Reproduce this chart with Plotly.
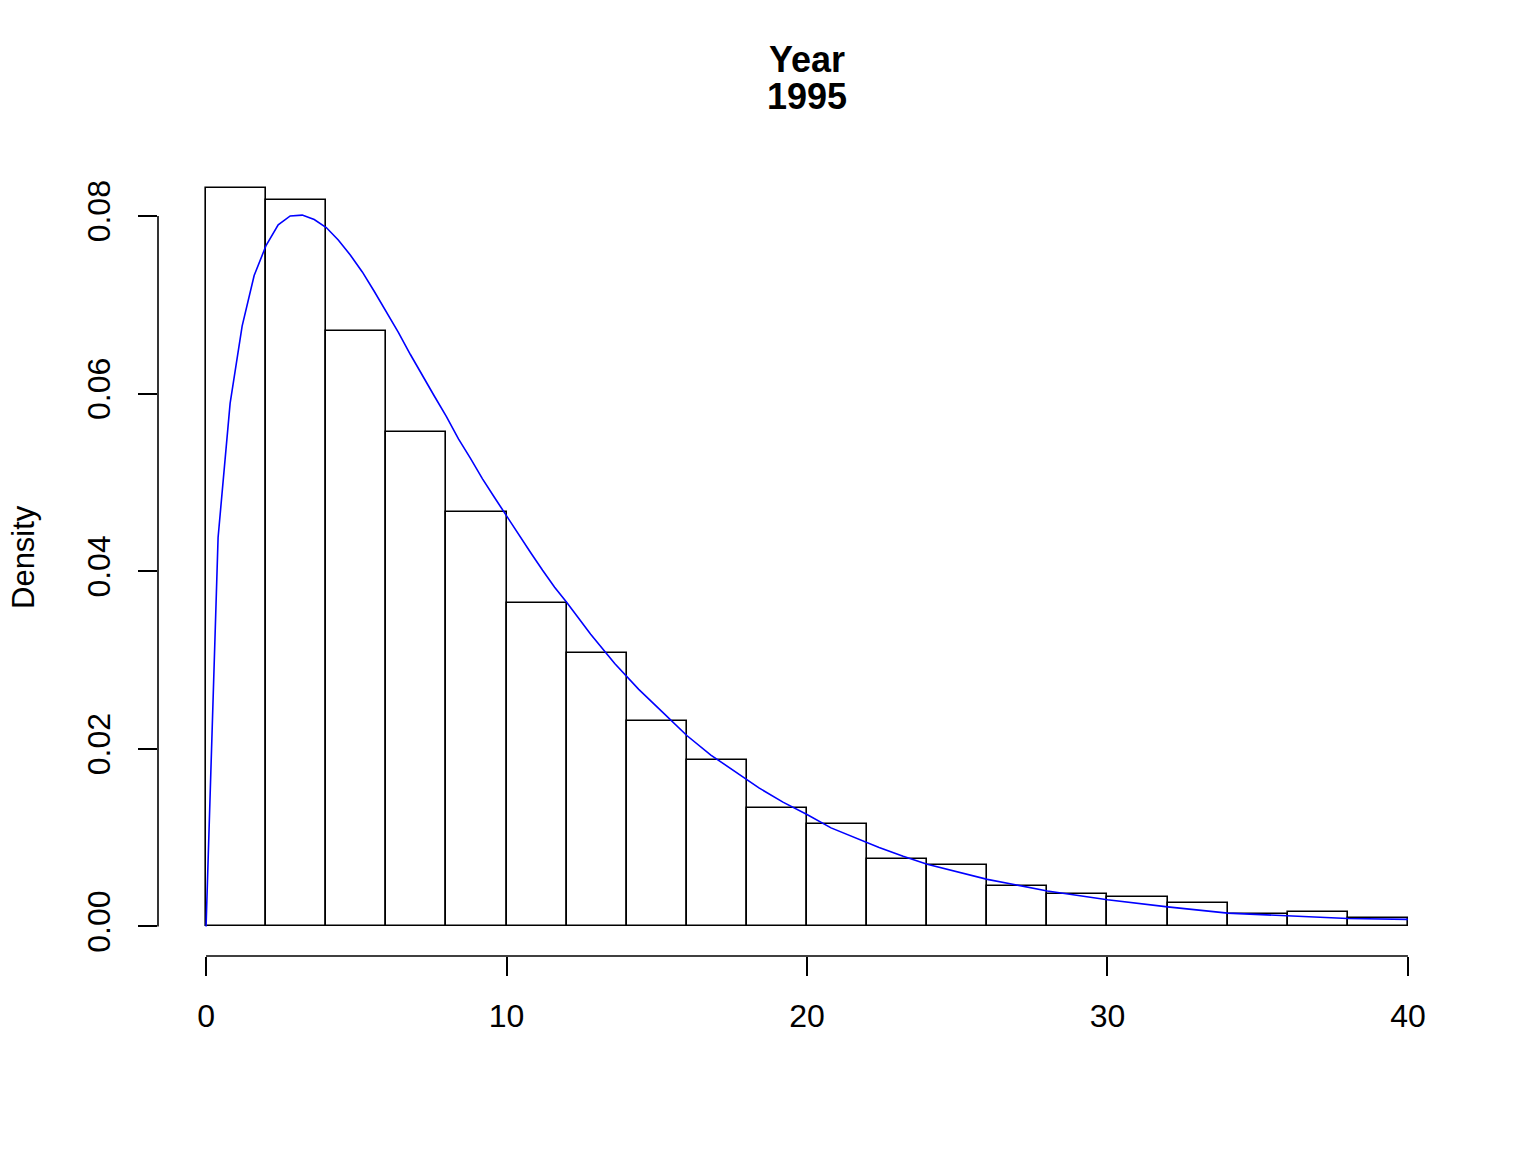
import plotly.graph_objects as go

# Histogram (density scale), bins of width 2
bin_edges = [0, 2, 4, 6, 8, 10, 12, 14, 16, 18, 20, 22, 24, 26, 28, 30, 32, 34, 36, 38, 40]
bar_density = [0.0832, 0.0818, 0.0671, 0.0557, 0.0467, 0.0364, 0.0308, 0.0231, 0.0187, 0.0133,
               0.0115, 0.0076, 0.0069, 0.0046, 0.0036, 0.0033, 0.0026, 0.0014, 0.0016, 0.0010]

# Fitted density curve (blue)
curve_x = [0, 0.4, 0.8, 1.2, 1.6, 2.0, 2.4, 2.8, 3.2, 3.6, 4.0, 4.4, 4.8, 5.2, 5.6, 6.0, 6.4, 6.8,
           7.2, 7.6, 8.0, 8.4, 8.8, 9.2, 9.6, 10.0, 10.4, 10.8, 11.2, 11.6, 12.0, 12.8, 13.6, 14.4,
           15.2, 16.0, 16.8, 17.6, 18.4, 19.2, 20.0, 20.8, 21.6, 22.4, 23.2, 24.0, 26.0, 28.0, 30.0,
           32.0, 34.0, 36.0, 38.0, 40.0]
curve_y = [0.0, 0.0438, 0.0589, 0.0676, 0.0733, 0.0767, 0.0790, 0.0800, 0.0801, 0.0796, 0.0787,
           0.0773, 0.0756, 0.0737, 0.0715, 0.0692, 0.0669, 0.0644, 0.0620, 0.0597, 0.0574, 0.0549,
           0.0527, 0.0504, 0.0483, 0.0462, 0.0442, 0.0421, 0.0401, 0.0382, 0.0365, 0.0329, 0.0296,
           0.0267, 0.0241, 0.0215, 0.0193, 0.0174, 0.0156, 0.0140, 0.0126, 0.0111, 0.0100, 0.0089,
           0.0079, 0.0070, 0.0053, 0.0040, 0.0030, 0.0022, 0.0015, 0.0012, 0.0009, 0.0008]

x_ticks = [0, 10, 20, 30, 40]
y_ticks = [0.00, 0.02, 0.04, 0.06, 0.08]
title_lines = ["Year", "1995"]
y_label = "Density"

centers = [(a + b) / 2 for a, b in zip(bin_edges[:-1], bin_edges[1:])]
widths = [b - a for a, b in zip(bin_edges[:-1], bin_edges[1:])]

FONT = "Liberation Sans, Arial, Helvetica, sans-serif"
L, R, T, B = 158, 80, 158, 196
PH = 1152 - T - B
PW = 1536 - L - R

fig = go.Figure()
fig.add_trace(go.Bar(
    x=centers, y=bar_density, width=widths,
    marker=dict(color="white", line=dict(color="black", width=1.6)),
    showlegend=False, hoverinfo="skip",
))
fig.add_trace(go.Scatter(
    x=curve_x, y=curve_y, mode="lines",
    line=dict(color="#0000FF", width=1.6),
    showlegend=False, hoverinfo="skip",
))

xmin, xmax = bin_edges[0], bin_edges[-1]
xpad = 0.04 * (xmax - xmin)
ymax = max(max(bar_density), max(curve_y))
ypad = 0.04 * ymax

title_px = [59, 97]
annotations = [
    dict(text=y_label, textangle=-90, xref="paper", yref="paper",
         x=(23 - L) / PW, y=0.5, xanchor="center", yanchor="middle",
         showarrow=False, font=dict(family=FONT, size=31, color="black")),
]
for line, py in zip(title_lines, title_px):
    annotations.append(dict(
        text="<b>" + line + "</b>", xref="paper", yref="paper", x=0.5, y=1 + (T - py) / PH,
        xanchor="center", yanchor="middle", showarrow=False,
        font=dict(family=FONT, size=36, color="black")))

fig.update_layout(
    width=1536, height=1152,
    paper_bgcolor="white", plot_bgcolor="white",
    margin=dict(l=L, r=R, t=T, b=B),
    font=dict(family=FONT, size=32, color="black"),
    bargap=0,
    xaxis=dict(range=[xmin - xpad, xmax + xpad], tickvals=x_ticks, ticks="outside",
               ticklen=19, tickwidth=1.6, tickcolor="black", showgrid=False, zeroline=False,
               showline=False, ticklabelstandoff=13, tickfont=dict(size=32)),
    yaxis=dict(range=[-ypad, ymax + ypad], tickvals=y_ticks, tickformat=".2f", ticks="outside",
               ticklen=19, tickwidth=1.6, tickcolor="black", showgrid=False, zeroline=False,
               showline=False, tickangle=-90, ticklabelstandoff=15, tickfont=dict(size=32)),
    shapes=[
        dict(type="line", xref="x", yref="paper", x0=x_ticks[0], x1=x_ticks[-1], y0=0, y1=0,
             line=dict(color="black", width=1.6)),
        dict(type="line", xref="paper", yref="y", x0=0, x1=0, y0=y_ticks[0], y1=y_ticks[-1],
             line=dict(color="black", width=1.6)),
    ],
    annotations=annotations,
)

fig.write_html("out.html")
